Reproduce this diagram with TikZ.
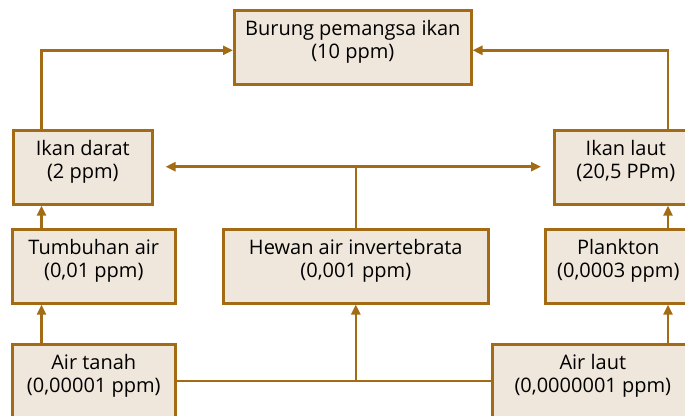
\documentclass[tikz,border=0pt]{standalone}
\usepackage{fontspec}
\setmainfont{Open Sans}
\usetikzlibrary{arrows.meta,calc}

\definecolor{rantai}{HTML}{A36B14}
\definecolor{kotak}{HTML}{EFE7DB}

\begin{document}
\begin{tikzpicture}[x=1pt, y=-1pt,
  tingkat/.style={draw=rantai, fill=kotak, line width=2.6pt, anchor=north west,
    align=center, inner xsep=0pt, inner ysep=10.5pt, text height=38pt, text depth=15pt,
    font=\fontsize{20}{23.5}\selectfont},
  garis/.style={draw=rantai, line width=2.5pt},
  alir/.style={garis, -{Triangle[length=10pt,width=9pt]}},
  alirdua/.style={garis, {Triangle[length=10pt,width=9pt]}-{Triangle[length=10pt,width=9pt]}}]
\useasboundingbox (0,0) rectangle (685,415);
\clip (0,0) rectangle (685,415);

% tingkat rantai makanan
\node[tingkat, minimum width=237pt] (burung) at (233,9) {Burung pemangsa ikan\\(10 ppm)};
\node[tingkat, minimum width=139pt] (ikandarat) at (12,129) {Ikan darat\\(2 ppm)};
\node[tingkat, minimum width=143pt] (ikanlaut) at (553,129) {Ikan laut\\(20,5 PPm)};
\node[tingkat, minimum width=163pt] (tumbuhan) at (11,228) {Tumbuhan air\\(0,01 ppm)};
\node[tingkat, minimum width=265pt] (hewan) at (222,228) {Hewan air invertebrata\\(0,001 ppm)};
\node[tingkat, minimum width=146pt] (plankton) at (544,228) {Plankton\\(0,0003 ppm)};
\node[tingkat, minimum width=163pt, text depth=58pt] (airtanah) at (11,343) {Air tanah\\(0,00001 ppm)};
\node[tingkat, minimum width=201pt, text depth=58pt] (airlaut) at (491,343) {Air laut\\(0,0000001 ppm)};

% jalur panah
\coordinate (kiri) at (41.5,0);
\coordinate (kanan) at (668,0);
\coordinate (simpang) at (hewan.north |- 0,166.7);
\coordinate (dasar) at (hewan.south |- 0,381);

\draw[alir] (kiri |- airtanah.north) -- (kiri |- tumbuhan.south);
\draw[alir] (kiri |- tumbuhan.north) -- (kiri |- ikandarat.south);
\draw[alir] (kiri |- ikandarat.north) |- ($(burung.west)+(0,3)$);
\draw[alir] (kanan |- airlaut.north) -- (kanan |- plankton.south);
\draw[alir] (kanan |- plankton.north) -- (kanan |- ikanlaut.south);
\draw[alir] (kanan |- ikanlaut.north) |- ($(burung.east)+(0,3)$);

\draw[garis] (hewan.north) -- (simpang);
\draw[alirdua] ($(ikandarat.east |- simpang)+(12,0)$) -- ($(ikanlaut.west |- simpang)+(-12,0)$);
\draw[garis] (airtanah.east |- dasar) -- (airlaut.west |- dasar);
\draw[alir] (dasar) -- (hewan.south);
\end{tikzpicture}
\end{document}
